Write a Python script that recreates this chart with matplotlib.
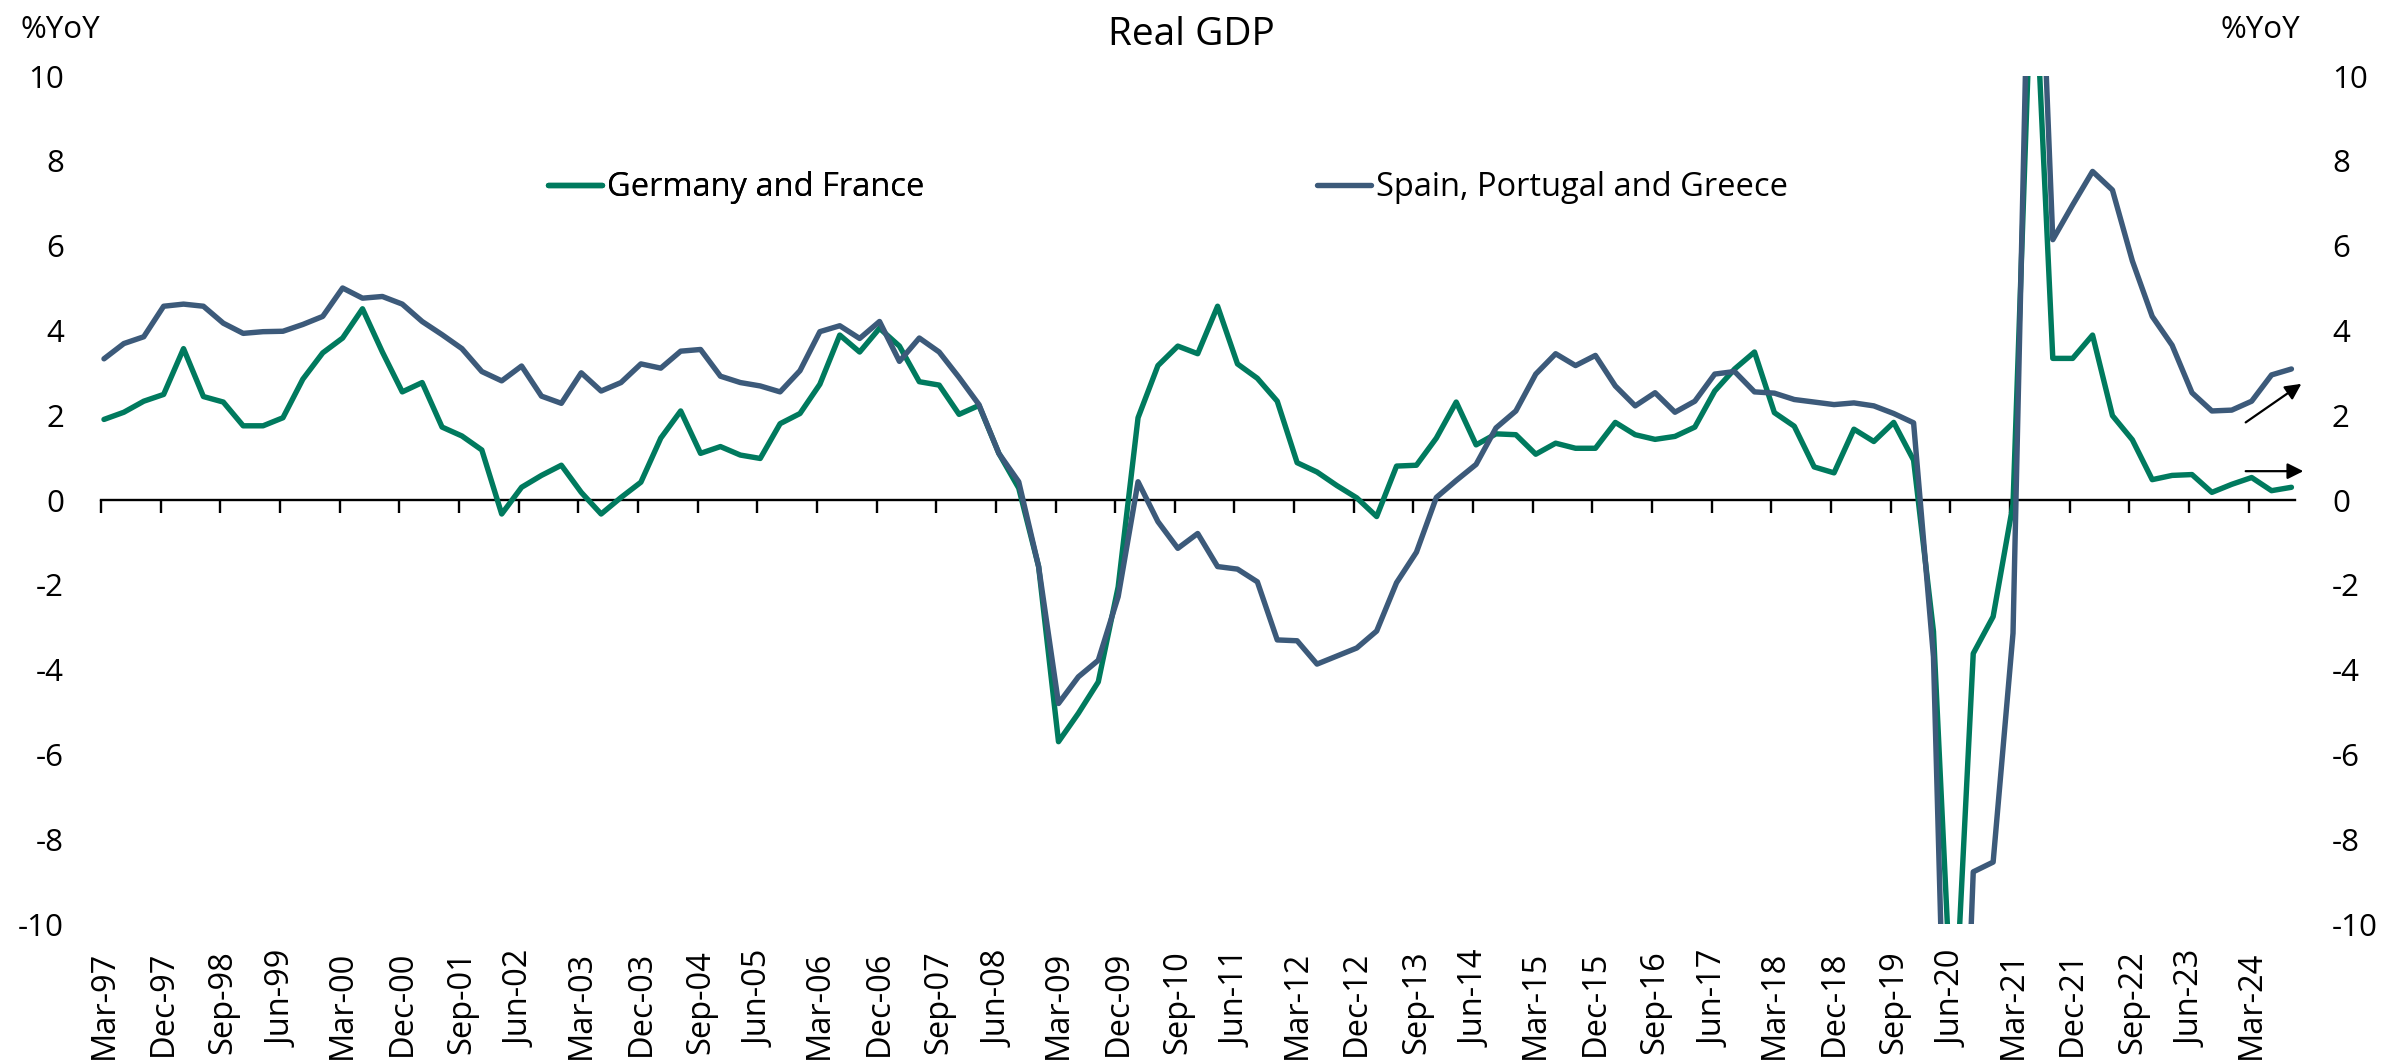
import numpy as np
import pandas as pd
import matplotlib
matplotlib.use("Agg")
import matplotlib.pyplot as plt

# Datos trimestrales, % interanual (Mar-97 .. Sep-24)
fechas = pd.date_range("1997-03-31", "2024-09-30", freq="QE")
etiquetas = [f.strftime("%b-%y") for f in fechas]

alemania_francia = [
    1.90, 2.07, 2.33, 2.49, 3.57, 2.44, 2.31, 1.75, 1.75, 1.94,
    2.85, 3.47, 3.82, 4.51, 3.49, 2.55, 2.77, 1.72, 1.51, 1.18,
    -0.33, 0.30, 0.58, 0.82, 0.18, -0.33, 0.06, 0.42, 1.46, 2.10,
    1.10, 1.26, 1.06, 0.98, 1.80, 2.04, 2.73, 3.89, 3.49, 4.05,
    3.63, 2.79, 2.71, 2.02, 2.23, 1.10, 0.28, -1.57, -5.70, -5.03,
    -4.29, -2.05, 1.94, 3.17, 3.63, 3.45, 4.57, 3.21, 2.87, 2.33,
    0.88, 0.66, 0.34, 0.05, -0.39, 0.80, 0.82, 1.46, 2.31, 1.30,
    1.56, 1.54, 1.08, 1.34, 1.22, 1.22, 1.83, 1.54, 1.43, 1.50,
    1.72, 2.57, 3.09, 3.49, 2.06, 1.74, 0.78, 0.64, 1.67, 1.38,
    1.83, 0.94, -3.10, -13.0, -3.62, -2.75, -0.10, 13.5, 3.34, 3.34,
    3.89, 1.99, 1.42, 0.48, 0.58, 0.60, 0.18, 0.37, 0.53, 0.22,
    0.30,
]

espana_portugal_grecia = [
    3.33, 3.69, 3.85, 4.57, 4.62, 4.57, 4.17, 3.93, 3.97, 3.98,
    4.14, 4.33, 5.00, 4.76, 4.80, 4.62, 4.21, 3.90, 3.57, 3.03,
    2.81, 3.16, 2.45, 2.28, 3.00, 2.57, 2.77, 3.21, 3.11, 3.51,
    3.55, 2.92, 2.77, 2.69, 2.55, 3.05, 3.97, 4.11, 3.81, 4.21,
    3.27, 3.82, 3.49, 2.89, 2.25, 1.10, 0.43, -1.57, -4.80, -4.17,
    -3.78, -2.28, 0.43, -0.51, -1.14, -0.79, -1.57, -1.63, -1.93, -3.30,
    -3.32, -3.87, -3.68, -3.49, -3.09, -1.95, -1.23, 0.06, 0.46, 0.84,
    1.70, 2.10, 2.97, 3.45, 3.17, 3.41, 2.69, 2.22, 2.53, 2.07,
    2.33, 2.97, 3.03, 2.55, 2.52, 2.37, 2.31, 2.25, 2.29, 2.22,
    2.04, 1.82, -3.70, -21.0, -8.77, -8.54, -3.14, 18.0, 6.14, 6.96,
    7.75, 7.31, 5.64, 4.33, 3.65, 2.53, 2.10, 2.12, 2.33, 2.95,
    3.09,
]

series = ["Germany and France", "Spain, Portugal and Greece"]
colores = ["#007A5E", "#3C5A7A"]
yticks = np.arange(-10, 11, 2)

plt.rcParams["font.family"] = ["Open Sans", "DejaVu Sans"]
plt.rcParams["axes.unicode_minus"] = False

W, H = 2386, 1061
fig = plt.figure(figsize=(W / 100, H / 100), dpi=100)
ax = fig.add_axes([101 / W, 1 - 924 / H, (2295 - 101) / W, (924 - 76) / H])

x = np.arange(len(fechas))
l1, = ax.plot(x, alemania_francia, color=colores[0], lw=3.9,
              solid_joinstyle="round", solid_capstyle="round", zorder=3)
l2, = ax.plot(x, espana_portugal_grecia, color=colores[1], lw=3.9,
              solid_joinstyle="round", solid_capstyle="round", zorder=4)

ax.set_xlim(-0.1, 110.18)
ax.set_ylim(-10, 10)

# eje horizontal en el cero con marcas hacia abajo
for s in ["left", "right", "top"]:
    ax.spines[s].set_visible(False)
ax.spines["bottom"].set_position(("data", 0))
ax.spines["bottom"].set_linewidth(1.7)
ax.spines["bottom"].set_zorder(2)
ax.set_xticks(x[::3] - 0.15)
ax.tick_params(axis="x", direction="out", length=9, width=1.7, labelbottom=False)

ax.set_yticks(yticks)
ax.set_yticklabels([str(v) for v in yticks])
ax.tick_params(axis="y", length=0, pad=26.6, labelsize=22.5)

# etiquetas de fechas en la parte baja
sec = ax.secondary_xaxis(0.0)
sec.set_xticks(x[::3])
sec.set_xticklabels(etiquetas[::3], rotation=90, fontsize=23.5)
sec.tick_params(length=0, pad=19)
sec.spines["bottom"].set_visible(False)

ax2 = ax.twinx()
ax2.set_ylim(-10, 10)
ax2.set_yticks(yticks)
ax2.set_yticklabels([str(v) for v in yticks])
ax2.tick_params(axis="y", length=0, pad=26.6, labelsize=22.5)
for s in ax2.spines.values():
    s.set_visible(False)

# flechas de tendencia
flechas = [((107.7, 1.83), (110.5, 2.74)), ((107.7, 0.68), (110.6, 0.68))]
for ini, fin in flechas:
    ax.annotate("", xy=fin, xytext=ini, annotation_clip=False,
                arrowprops=dict(arrowstyle="-|>", color="black", lw=1.6,
                                mutation_scale=24, shrinkA=0, shrinkB=0))

# leyenda
leg1 = fig.legend([l1], [series[0]], loc="center left", bbox_to_anchor=(548 / W, 1 - 188 / H),
                  frameon=False, fontsize=23.5, handlelength=1.66, handletextpad=0.15,
                  borderpad=0, borderaxespad=0)
leg2 = fig.legend([l2], [series[1]], loc="center left", bbox_to_anchor=(1317 / W, 1 - 188 / H),
                  frameon=False, fontsize=23.5, handlelength=1.66, handletextpad=0.15,
                  borderpad=0, borderaxespad=0)
fig.add_artist(leg1)

fig.text(0.4995, 1 - 35 / H, "Real GDP", ha="center", va="center", fontsize=28)
fig.text(20 / W, 1 - 30 / H, "%YoY", ha="left", va="center", fontsize=22.5)
fig.text(2300 / W, 1 - 30 / H, "%YoY", ha="right", va="center", fontsize=22.5)

fig.savefig("out.png", dpi=100)
